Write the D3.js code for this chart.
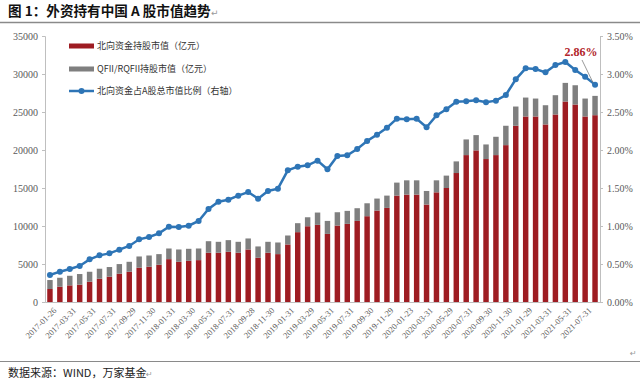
<!DOCTYPE html>
<html><head><meta charset="utf-8">
<script src="https://cdn.jsdelivr.net/npm/d3@7"></script>
<style>body{margin:0;background:#fff}svg{display:block}</style>
</head><body>
<svg id="chart" width="640" height="381"></svg>
<script>
const dates = ["2017-01-26","2017-02-28","2017-03-31","2017-04-28","2017-05-31","2017-06-30","2017-07-31","2017-08-31","2017-09-29","2017-10-31","2017-11-30","2017-12-29",
"2018-01-31","2018-02-28","2018-03-30","2018-04-27","2018-05-31","2018-06-29","2018-07-31","2018-08-31","2018-09-28","2018-10-31","2018-11-30","2018-12-28",
"2019-01-31","2019-02-28","2019-03-29","2019-04-30","2019-05-31","2019-06-28","2019-07-31","2019-08-30","2019-09-30","2019-10-31","2019-11-29","2019-12-31",
"2020-01-23","2020-02-28","2020-03-31","2020-04-30","2020-05-29","2020-06-30","2020-07-31","2020-08-31","2020-09-30","2020-10-30","2020-11-30","2020-12-31",
"2021-01-29","2021-02-26","2021-03-31","2021-04-30","2021-05-31","2021-06-30","2021-07-31","2021-08-31"];
const northbound = [1710,2010,2190,2280,2670,3060,3330,3720,3980,4510,4640,4900,5640,5290,5420,5510,6480,6480,6610,6480,6910,5820,6480,6300,7570,9190,9970,10150,8960,10060,10280,10670,11290,12030,12380,14000,14130,14130,12820,14430,15000,16970,19330,19950,18810,19330,20640,23190,24410,24410,23360,24670,26380,25980,24410,24580];
const qfii = [1180,1180,1260,1400,1310,1320,1270,1270,1310,1480,1480,1400,1400,1620,1580,1530,1520,1440,1530,1440,1450,1490,1440,1530,1180,1180,1180,1620,1710,1750,1710,1670,1700,1580,1620,1710,1880,1880,1790,1580,1630,1530,2060,2010,1920,2410,2550,2530,2490,2360,2530,2540,2450,2540,2360,2540];
const ratio = [0.355,0.399,0.434,0.474,0.561,0.614,0.640,0.689,0.737,0.825,0.855,0.904,0.991,0.987,1.004,1.066,1.224,1.320,1.346,1.399,1.447,1.360,1.461,1.491,1.732,1.781,1.798,1.860,1.746,1.921,1.930,2.013,2.118,2.202,2.294,2.412,2.403,2.412,2.300,2.456,2.535,2.636,2.640,2.654,2.627,2.649,2.724,2.930,3.075,3.066,3.022,3.118,3.158,3.053,2.965,2.86];
const leftTicks = [0,5000,10000,15000,20000,25000,30000,35000];
const rightTicks = [0,0.5,1,1.5,2,2.5,3,3.5];
const seriesNames = ["北向资金持股市值（亿元）","QFII/RQFII持股市值（亿元）","北向资金占A股总市值比例（右轴）"];
const colors = {red:"#9e1c22", gray:"#7f7f7f", blue:"#2e75b6"};

const svg = d3.select("#chart");
const L = 45, R = 600, T = 36, B = 302;
const x = d3.scaleBand().domain(dates).range([L, R]).paddingInner(0.45).paddingOuter(0.225);
const y = d3.scaleLinear().domain([0, 35000]).range([B, T]);
const y2 = d3.scaleLinear().domain([0, 3.5]).range([B, T]);
const serif = "'Liberation Serif','Times New Roman',serif";
const cjk = "'Noto Sans CJK SC',sans-serif";

// Title
svg.append("text").attr("x", 8).attr("y", 16).attr("font-family", cjk).attr("font-weight", "bold")
  .attr("font-size", 13.6).attr("fill", "#111").text("图 1：外资持有中国 A 股市值趋势");
svg.append("text").attr("x", 211).attr("y", 16).attr("font-family", "'DejaVu Sans'").attr("font-size", 9).attr("fill", "#999").text("↵");
svg.append("line").attr("x1", 0).attr("x2", 640).attr("y1", 22.5).attr("y2", 22.5).attr("stroke", "#8a8a8a").attr("stroke-width", 1.5);

// Footer
svg.append("line").attr("x1", 0).attr("x2", 640).attr("y1", 361.5).attr("y2", 361.5).attr("stroke", "#8a8a8a").attr("stroke-width", 1.2);
svg.append("text").attr("x", 8).attr("y", 377).attr("font-family", cjk).attr("font-size", 11).attr("fill", "#222").text("数据来源：WIND，万家基金");
svg.append("text").attr("x", 146).attr("y", 377).attr("font-family", "'DejaVu Sans'").attr("font-size", 8).attr("fill", "#999").text("↵");
svg.append("text").attr("x", 630).attr("y", 356).attr("font-family", "'DejaVu Sans'").attr("font-size", 8).attr("fill", "#999").text("↵");

// Axes
const gL = svg.append("g").attr("transform", `translate(${L},0)`)
  .call(d3.axisLeft(y).tickValues(leftTicks).tickSize(3).tickPadding(4).tickFormat(d3.format("d")));
const gR = svg.append("g").attr("transform", `translate(${R},0)`)
  .call(d3.axisRight(y2).tickValues(rightTicks).tickSize(3).tickPadding(4).tickFormat(d => d.toFixed(2) + "%"));
[gL, gR].forEach(g => {
  g.select(".domain").attr("stroke", "#bfbfbf");
  g.selectAll(".tick line").attr("stroke", "#bfbfbf");
  g.selectAll(".tick text").attr("font-family", serif).attr("font-size", 10).attr("fill", "#595959");
});

const labelDates = dates.filter((d, i) => i % 2 === 0);
const gX = svg.append("g").attr("transform", `translate(0,${B})`)
  .call(d3.axisBottom(x).tickValues(labelDates).tickSize(0).tickPadding(0));
gX.select(".domain").attr("stroke", "#bfbfbf");
gX.selectAll(".tick text").attr("font-family", serif).attr("font-size", 8.5).attr("fill", "#595959")
  .attr("text-anchor", "end").attr("transform", "translate(4,6) rotate(-45)").attr("dy", "0.5em").attr("dx", "0");

// Bars
const bars = svg.append("g");
bars.selectAll("rect.n").data(dates).join("rect").attr("class", "n")
  .attr("x", d => x(d)).attr("width", x.bandwidth())
  .attr("y", (d, i) => y(northbound[i])).attr("height", (d, i) => y(0) - y(northbound[i]))
  .attr("fill", colors.red);
bars.selectAll("rect.q").data(dates).join("rect").attr("class", "q")
  .attr("x", d => x(d)).attr("width", x.bandwidth())
  .attr("y", (d, i) => y(northbound[i] + qfii[i])).attr("height", (d, i) => y(northbound[i]) - y(northbound[i] + qfii[i]))
  .attr("fill", colors.gray);

// Line
const cx = d => x(d) + x.bandwidth() / 2;
const line = d3.line().x((d, i) => cx(dates[i])).y(d => y2(d));
svg.append("path").datum(ratio).attr("d", line).attr("fill", "none").attr("stroke", colors.blue).attr("stroke-width", 2.5);
svg.append("g").selectAll("circle").data(ratio).join("circle")
  .attr("cx", (d, i) => cx(dates[i])).attr("cy", d => y2(d)).attr("r", 3).attr("fill", colors.blue);

// Annotation
const lastI = dates.length - 1;
svg.append("line").attr("x1", 582).attr("y1", 60).attr("x2", cx(dates[lastI]) - 2).attr("y2", y2(ratio[lastI]) - 2)
  .attr("stroke", "#808080").attr("stroke-width", 0.8);
svg.append("text").attr("x", 581).attr("y", 56).attr("text-anchor", "middle").attr("font-family", serif)
  .attr("font-weight", "bold").attr("font-size", 12).attr("fill", "#b2262b").text(d3.format(".2f")(ratio[lastI]) + "%");

// Legend
const leg = svg.append("g").attr("font-family", cjk).attr("font-size", 9).attr("fill", "#333");
const legY = [46, 69, 91];
leg.append("rect").attr("x", 69).attr("y", legY[0] - 2.5).attr("width", 25).attr("height", 5).attr("fill", colors.red);
leg.append("rect").attr("x", 69).attr("y", legY[1] - 2.5).attr("width", 25).attr("height", 5).attr("fill", colors.gray);
leg.append("line").attr("x1", 69).attr("x2", 94).attr("y1", legY[2]).attr("y2", legY[2]).attr("stroke", colors.blue).attr("stroke-width", 2.5);
leg.append("circle").attr("cx", 81.5).attr("cy", legY[2]).attr("r", 3).attr("fill", colors.blue);
seriesNames.forEach((s, i) => {
  leg.append("text").attr("x", 97).attr("y", legY[i]).attr("dy", "0.35em").text(s);
});
</script>
</body></html>
